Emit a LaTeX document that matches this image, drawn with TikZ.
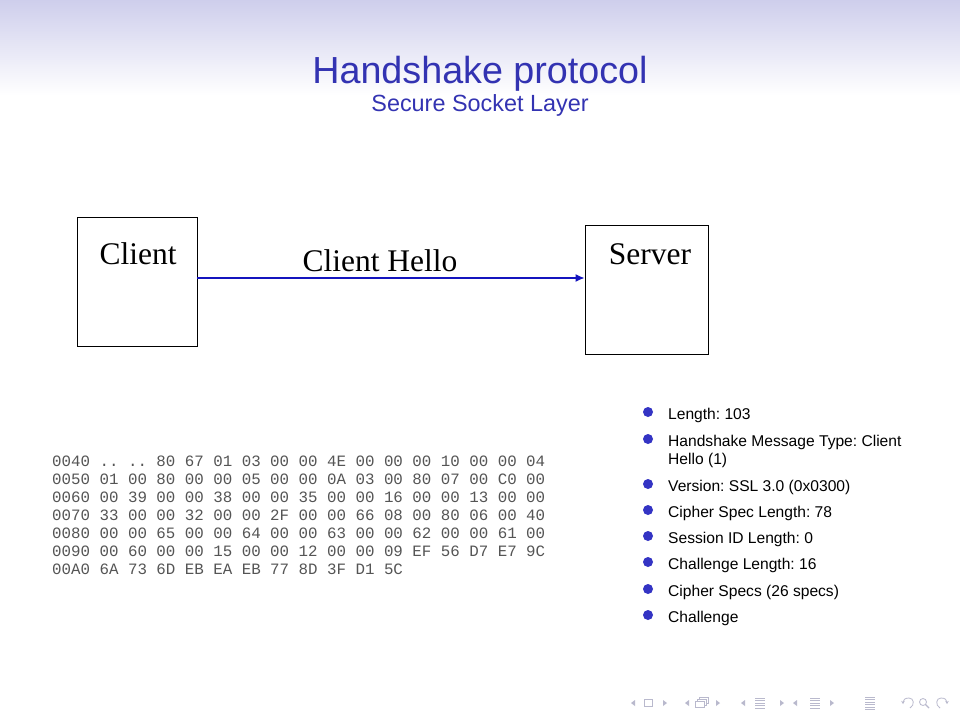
\documentclass[tikz,border=0pt]{standalone}
\usepackage{fontspec}
\setmainfont{Liberation Serif}
\newfontfamily\sansf{Liberation Sans}
\newfontfamily\monof{Liberation Mono}
\usetikzlibrary{arrows.meta}
\frenchspacing
\definecolor{structure}{rgb}{0.2,0.2,0.7}
\definecolor{bulletblue}{RGB}{52,52,196}
\definecolor{hdr}{RGB}{206,206,236}
\definecolor{arrowblue}{RGB}{20,20,190}
\definecolor{hexgray}{RGB}{85,85,85}
\definecolor{navgray}{RGB}{185,185,205}
\tikzset{
  party/.style={draw=black, line width=0.9pt, minimum width=120pt, minimum height=129pt, inner sep=0pt},
  partylabel/.style={font=\fontsize{31.5}{34}\selectfont, anchor=base},
  msg/.style={draw=arrowblue, line width=1.3pt, -{Latex[length=9pt,width=8pt]}},
  hexline/.style={font=\monof\fontsize{15.8}{17}\selectfont, text=hexgray, anchor=base west, inner sep=0pt},
  item/.style={font=\sansf\fontsize{15.6}{17}\selectfont, anchor=base west, inner sep=0pt},
  bullet/.style={fill=bulletblue, draw=none},
  navtri/.style={fill=navgray, draw=none},
  navline/.style={draw=navgray, line width=0.8pt}
}
\begin{document}
\begin{tikzpicture}[x=1pt,y=-1pt]
\useasboundingbox (0,0) rectangle (960,718);
\fill[white] (0,0) rectangle (960,718);
\shade[top color=hdr, bottom color=white] (0,0) rectangle (960,95);

% title
\node[font=\sansf\fontsize{37.7}{40}\selectfont, text=structure, anchor=base, inner sep=0pt] (title) at (480,83) {Handshake protocol};
\node[font=\sansf\fontsize{23.4}{26}\selectfont, text=structure, anchor=base, inner sep=0pt] (subtitle) at (480,111) {Secure Socket Layer};

% parties
\node[party] (client) at (137,281.5) {};
\node[party, minimum width=123pt] (server) at (646.5,289.5) {};
\node[partylabel] (clientlbl) at (138,264) {Client};
\node[partylabel] (serverlbl) at (650,264) {Server};
\node[partylabel] (hello) at (380,271) {Client Hello};
\draw[msg] (client.east |- 0,278) -- (server.west |- 0,278);

% hex dump
\node[hexline] (h1) at (52,466) {0040 .. .. 80 67 01 03 00 00 4E 00 00 00 10 00 00 04};
\node[hexline] (h2) at (52,484) {0050 01 00 80 00 00 05 00 00 0A 03 00 80 07 00 C0 00};
\node[hexline] (h3) at (52,502) {0060 00 39 00 00 38 00 00 35 00 00 16 00 00 13 00 00};
\node[hexline] (h4) at (52,520) {0070 33 00 00 32 00 00 2F 00 00 66 08 00 80 06 00 40};
\node[hexline] (h5) at (52,538) {0080 00 00 65 00 00 64 00 00 63 00 00 62 00 00 61 00};
\node[hexline] (h6) at (52,556) {0090 00 60 00 00 15 00 00 12 00 00 09 EF 56 D7 E7 9C};
\node[hexline] (h7) at (52,574) {00A0 6A 73 6D EB EA EB 77 8D 3F D1 5C};

% bullet list
\foreach \y/\t [count=\i] in {
  419/{Length: 103},
  446/{Handshake Message Type: Client},
  491/{Version: SSL 3.0 (0x0300)},
  517/{Cipher Spec Length: 78},
  543/{Session ID Length: 0},
  569/{Challenge Length: 16},
  596/{Cipher Specs (26 specs)},
  622/{Challenge}}{
  \node[item] (it\i) at (668,\y) {\t};
  \fill[bullet] (648,\y-7) circle (5);
}
\node[item] (it2b) at (668,464) {Hello (1)};

% navigation symbols
\begin{scope}
\fill[navtri] (631,703) -- (635,700) -- (635,706) -- cycle;
\draw[navline] (644,699.5) rectangle (652,706.5);
\fill[navtri] (667,703) -- (663,700) -- (663,706) -- cycle;
\fill[navtri] (685,703) -- (689,700) -- (689,706) -- cycle;
\draw[navline, fill=white] (699,697) rectangle (708,703);
\draw[navline, fill=white] (697,699) rectangle (706,705);
\draw[navline, fill=white] (695,701) rectangle (704,707);
\fill[navtri] (720,703) -- (716,700) -- (716,706) -- cycle;
\fill[navtri] (741,703) -- (745,700) -- (745,706) -- cycle;
\foreach \yy in {698,700.5,703,705.5,708} \draw[navline, line width=0.6pt] (755,\yy) -- (765,\yy);
\fill[navtri] (784,703) -- (780,700) -- (780,706) -- cycle;
\fill[navtri] (793,703) -- (797,700) -- (797,706) -- cycle;
\foreach \yy in {698,700.5,703,705.5,708} \draw[navline, line width=0.6pt] (810,\yy) -- (820,\yy);
\fill[navtri] (834,703) -- (830,700) -- (830,706) -- cycle;
\foreach \yy in {697,699.5,702,704.5,707,709} \draw[navline, line width=0.6pt] (865,\yy) -- (875,\yy);
\draw[navline, -{Stealth[length=3pt,width=3.5pt]}] (910,708) .. controls (915,705) and (914,698) .. (909,698) .. controls (905,698) and (903,700) .. (903,704);
\draw[navline] (923,702) circle (3.5);
\draw[navline, line width=1.2pt] (925.5,704.5) -- (929,708);
\draw[navline, -{Stealth[length=3pt,width=3.5pt]}] (940,708) .. controls (935,705) and (936,698) .. (941,698) .. controls (945,698) and (947,700) .. (947,704);
\end{scope}
\end{tikzpicture}
\end{document}
